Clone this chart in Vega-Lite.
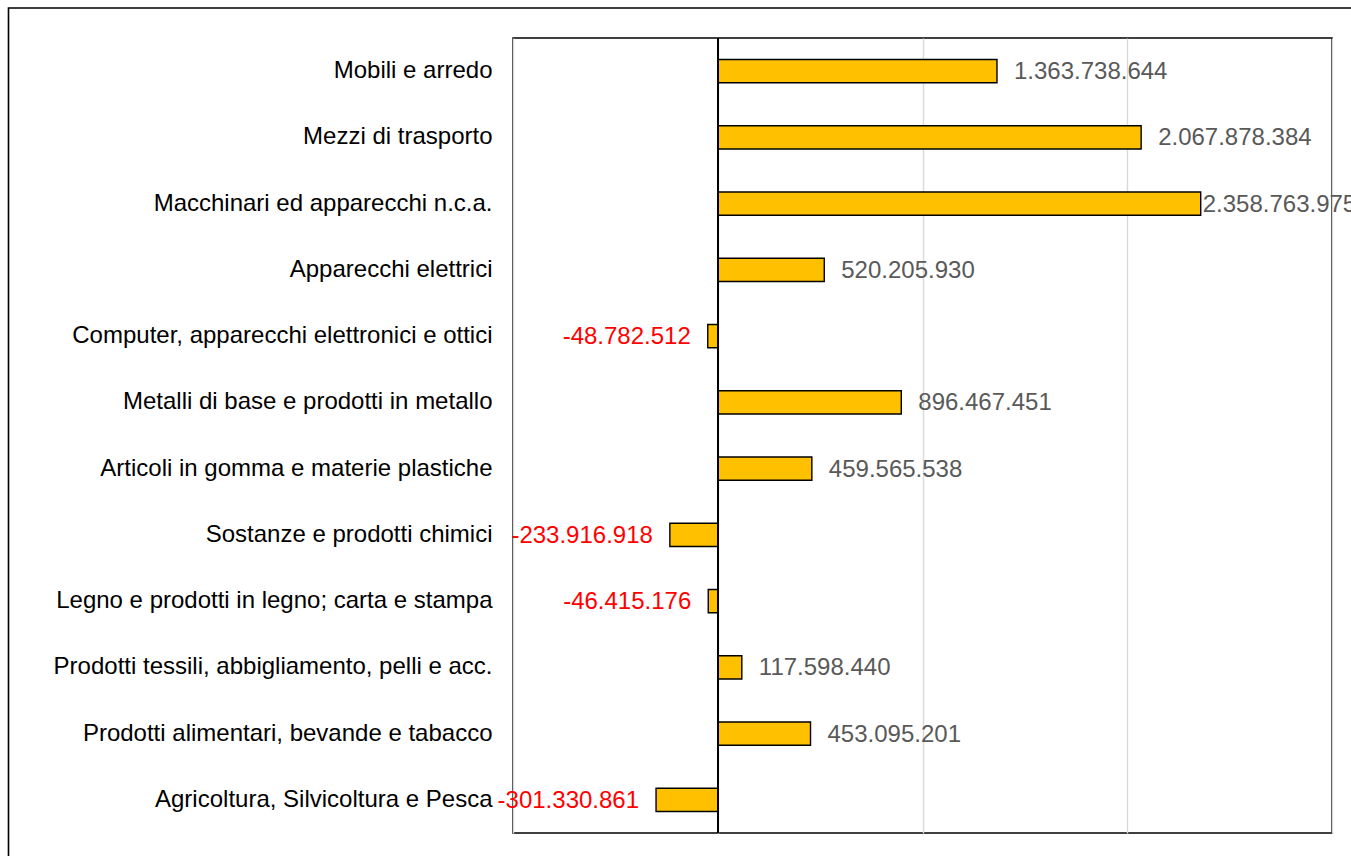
{
  "$schema": "https://vega.github.io/schema/vega-lite/v6.json",
  "autosize": {"type": "none"},
  "padding": {"left": 513, "top": 38, "right": 19, "bottom": 23},
  "width": 819,
  "height": 795,
  "background": "white",
  "config": {
    "font": "Liberation Sans",
    "view": {"stroke": "#000000", "strokeWidth": 1.5},
    "locale": {"number": {"decimal": ",", "thousands": ".", "grouping": [3], "currency": ["", " €"], "minus": "-"}}
  },
  "data": {
    "values": [
      {"settore": "Mobili e arredo", "valore": 1363738644},
      {"settore": "Mezzi di trasporto", "valore": 2067878384},
      {"settore": "Macchinari ed apparecchi n.c.a.", "valore": 2358763975},
      {"settore": "Apparecchi elettrici", "valore": 520205930},
      {"settore": "Computer, apparecchi elettronici e ottici", "valore": -48782512},
      {"settore": "Metalli di base e prodotti in metallo", "valore": 896467451},
      {"settore": "Articoli in gomma e materie plastiche", "valore": 459565538},
      {"settore": "Sostanze e prodotti chimici", "valore": -233916918},
      {"settore": "Legno e prodotti in legno; carta e stampa", "valore": -46415176},
      {"settore": "Prodotti tessili, abbigliamento, pelli e acc.", "valore": 117598440},
      {"settore": "Prodotti alimentari, bevande e tabacco", "valore": 453095201},
      {"settore": "Agricoltura, Silvicoltura e Pesca", "valore": -301330861}
    ]
  },
  "resolve": {"scale": {"y": "independent"}},
  "layer": [
    {
      "layer": [
        {
          "mark": {"type": "bar", "fill": "#FFC000", "stroke": "#000000", "strokeWidth": 1.4},
          "encoding": {
            "y": {
              "field": "settore", "type": "nominal", "sort": null,
              "scale": {"paddingInner": 0.65, "paddingOuter": 0.325},
              "axis": {"title": null, "domain": false, "ticks": false, "labelPadding": 21, "labelFontSize": 24, "labelColor": "#000000", "labelLimit": 600, "labelFont": "Liberation Sans"}
            },
            "x": {
              "field": "valore", "type": "quantitative",
              "scale": {"domain": [-1000000000, 3000000000], "nice": false, "zero": false},
              "axis": {"title": null, "values": [-1000000000, 0, 1000000000, 2000000000, 3000000000], "labels": false, "ticks": false, "domain": false, "grid": true, "gridColor": "#D9D9D9", "gridWidth": 1.4}
            }
          }
        },
        {
          "mark": {"type": "rule", "color": "#000000", "strokeWidth": 1.4},
          "encoding": {"x": {"datum": 0, "type": "quantitative"}}
        },
        {
          "transform": [{"filter": "datum.valore >= 0"}],
          "mark": {"type": "text", "align": "left", "baseline": "middle", "dx": {"expr": "datum.valore > 2300000000 ? 2 : 17"}, "dy": 1, "fontSize": 24, "color": "#595959", "font": "Liberation Sans"},
          "encoding": {
            "y": {"field": "settore", "type": "nominal", "sort": null},
            "x": {"field": "valore", "type": "quantitative"},
            "text": {"field": "valore", "type": "quantitative", "format": ",d"}
          }
        },
        {
          "transform": [{"filter": "datum.valore < 0"}],
          "mark": {"type": "text", "align": "right", "baseline": "middle", "dx": -17, "dy": 1, "fontSize": 24, "color": "#FF0000", "font": "Liberation Sans"},
          "encoding": {
            "y": {"field": "settore", "type": "nominal", "sort": null},
            "x": {"field": "valore", "type": "quantitative"},
            "text": {"field": "valore", "type": "quantitative", "format": ",d"}
          }
        }
      ]
    },
    {
      "data": {"values": [{"sx": -3464000000, "dx2": 3400000000, "top": 1.0377, "bottom": -0.06}]},
      "mark": {"type": "rect", "fill": null, "fillOpacity": 0, "stroke": "#000000", "strokeWidth": 1.6},
      "encoding": {
        "x": {"field": "sx", "type": "quantitative"},
        "x2": {"field": "dx2"},
        "y": {"field": "top", "type": "quantitative", "scale": {"domain": [0, 1], "nice": false, "zero": false}, "axis": null},
        "y2": {"field": "bottom"}
      }
    }
  ]
}
